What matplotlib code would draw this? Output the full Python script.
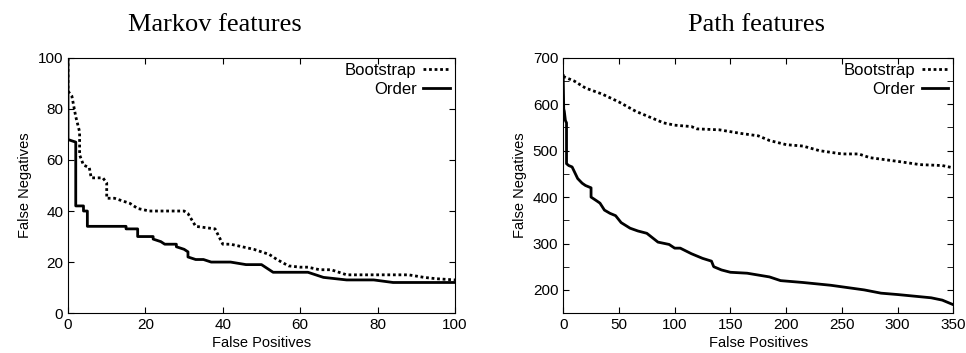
import numpy as np
import matplotlib.pyplot as plt
from matplotlib.ticker import MultipleLocator

plt.rcParams['font.family'] = ['Liberation Sans', 'DejaVu Sans']

# Markov features
mk_boot_x = [0, 0, 1, 2, 3, 3, 4, 5.5, 6, 9, 10, 10, 12, 14, 16, 18, 21, 30, 31, 33, 38, 40, 42, 48, 52, 54, 57, 60, 62, 65, 68, 72, 88, 92, 95, 100]
mk_boot_y = [100, 87, 85, 77, 71, 62, 58, 57, 53, 53, 51, 45, 45, 44, 43, 41, 40, 40, 39, 34, 33, 27, 27, 25, 23, 21, 18.5, 18, 18, 17, 17, 15, 15, 14, 13.5, 13]
mk_order_x = [0, 0, 2, 2, 4, 4, 5, 5, 15, 15, 18, 18, 22, 22, 24, 25, 28, 28, 30, 31, 31, 33, 35, 37, 42, 46, 50, 53, 62, 66, 72, 79, 84, 100]
mk_order_y = [100, 68, 67, 42, 42, 40, 40, 34, 34, 33, 33, 30, 30, 29, 28, 27, 27, 26, 25, 24, 22, 21, 21, 20, 20, 19, 19, 16, 16, 14, 13, 13, 12, 12]

# Path features
pt_boot_x = [0, 10, 20, 35, 50, 65, 80, 90, 100, 115, 120, 140, 160, 175, 185, 200, 215, 230, 250, 265, 275, 300, 320, 340, 350]
pt_boot_y = [660, 650, 635, 622, 605, 585, 570, 560, 555, 552, 547, 545, 537, 532, 522, 513, 510, 500, 493, 493, 485, 477, 470, 468, 463]
pt_order_x = [0, 0.5, 1, 2, 3, 3, 5, 8, 10, 13, 17, 20, 25, 25, 30, 33, 37, 42, 47, 52, 60, 67, 75, 85, 95, 100, 105, 115, 125, 133, 135, 142, 150, 165, 185, 195, 215, 240, 270, 285, 300, 330, 340, 350]
pt_order_y = [662, 590, 585, 565, 560, 472, 468, 465, 455, 440, 430, 425, 420, 400, 392, 387, 372, 365, 360, 345, 333, 327, 322, 303, 298, 290, 290, 278, 268, 262, 250, 243, 238, 236, 228, 220, 216, 210, 200, 193, 190, 183, 178, 168]

fig = plt.figure(figsize=(9.66, 3.53), dpi=100)
ax1 = fig.add_axes([0.0704, 0.113, 0.4006, 0.723])
ax2 = fig.add_axes([0.583, 0.113, 0.404, 0.723])

for ax, bx, by, ox, oy in [(ax1, mk_boot_x, mk_boot_y, mk_order_x, mk_order_y),
                           (ax2, pt_boot_x, pt_boot_y, pt_order_x, pt_order_y)]:
    ax.plot(bx, by, color='black', lw=2, linestyle=(0, (1, 1)), label='Bootstrap')
    ax.plot(ox, oy, color='black', lw=2, label='Order')
    ax.tick_params(direction='in', top=True, right=True, labelsize=11, length=4)
    ax.tick_params(which='minor', direction='in', top=True, right=True, length=4)
    ax.set_xlabel('False Positives', fontsize=10.5, labelpad=3)
    ax.set_ylabel('False Negatives', fontsize=10.5)
    for s in ax.spines.values():
        s.set_linewidth(0.8)
    ax.legend(loc='upper right', frameon=False, markerfirst=False, fontsize=12,
              handlelength=1.6, borderaxespad=0.0, borderpad=0.3, labelspacing=0.25,
              handletextpad=0.4)

ax1.set_xlim(0, 100)
ax1.set_ylim(0, 100)
ax1.xaxis.set_major_locator(MultipleLocator(20))
ax1.yaxis.set_major_locator(MultipleLocator(20))

ax2.set_xlim(0, 350)
ax2.set_ylim(150, 700)
ax2.xaxis.set_major_locator(MultipleLocator(50))
ax2.yaxis.set_major_locator(MultipleLocator(100))
ax2.yaxis.set_minor_locator(MultipleLocator(50))

fig.text(215 / 966, 1 - 25 / 353, 'Markov features', ha='center', va='center',
         family='Liberation Serif', fontsize=19)
fig.text(757 / 966, 1 - 25 / 353, 'Path features', ha='center', va='center',
         family='Liberation Serif', fontsize=19)

fig.savefig('out.png', dpi=100)
